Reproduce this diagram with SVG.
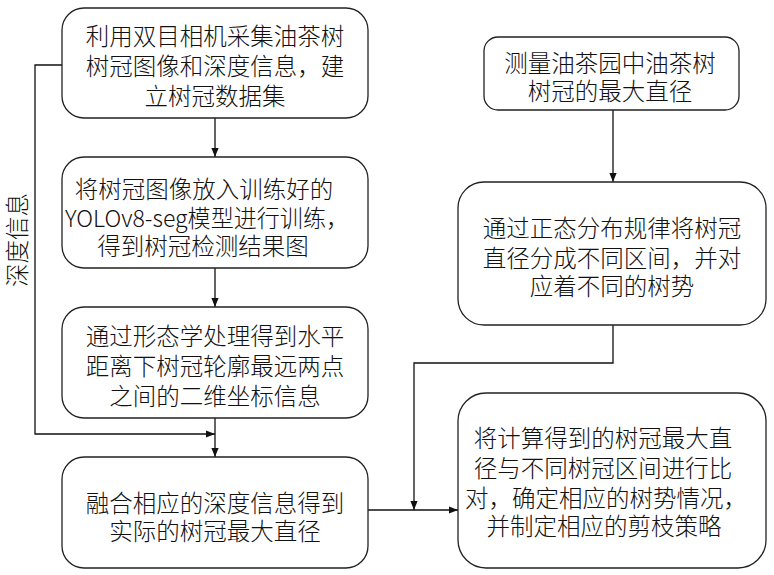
<svg xmlns="http://www.w3.org/2000/svg" width="774" height="575" viewBox="0 0 774 575">
<style>
.box{fill:#fff;stroke:#222;stroke-width:1.3}
.t{font-family:"Noto Sans CJK SC","Noto Sans",sans-serif;font-size:23.5px;font-weight:300;fill:#111;text-anchor:middle;dominant-baseline:central}
.c{fill:none;stroke:#111;stroke-width:1.3}
</style>
<defs>
<marker id="ah" viewBox="0 0 10 10" refX="10" refY="5" markerWidth="9" markerHeight="9" markerUnits="userSpaceOnUse" orient="auto">
<path d="M0,1 L10,5 L0,9 Z" fill="#111"/>
</marker>
</defs>
<rect width="774" height="575" fill="#fff"/>
<g id="connectors">
<path class="c" d="M215,118 V157" marker-end="url(#ah)"/>
<path class="c" d="M215,268 V307" marker-end="url(#ah)"/>
<path class="c" d="M215,418 V457" marker-end="url(#ah)"/>
<path class="c" d="M62,65 H35 V434 H215" marker-end="url(#ah)"/>
<path class="c" d="M613,110 V182" marker-end="url(#ah)"/>
<path class="c" d="M613,325 V363 H414 V510" marker-end="url(#ah)"/>
<path class="c" d="M368,510 H458" marker-end="url(#ah)"/>
<text class="t" transform="translate(16,240) rotate(-90)">深度信息</text>
</g>
<g id="n1">
<rect class="box" x="62" y="8" width="306" height="110" rx="22"/>
<text class="t"><tspan x="215" y="35">利用双目相机采集油茶树</tspan><tspan x="215" y="65">树冠图像和深度信息，建</tspan><tspan x="215" y="95">立树冠数据集</tspan></text>
</g>
<g id="n2">
<rect class="box" x="62" y="157" width="306" height="111" rx="22"/>
<text class="t"><tspan x="204" y="188">将树冠图像放入训练好的</tspan><tspan x="207" y="217" textLength="284" lengthAdjust="spacingAndGlyphs">YOLOv8-seg模型进行训练，</tspan><tspan x="203" y="245">得到树冠检测结果图</tspan></text>
</g>
<g id="n3">
<rect class="box" x="62" y="307" width="306" height="111" rx="22"/>
<text class="t"><tspan x="215" y="335">通过形态学处理得到水平</tspan><tspan x="215" y="365">距离下树冠轮廓最远两点</tspan><tspan x="215" y="395">之间的二维坐标信息</tspan></text>
</g>
<g id="n4">
<rect class="box" x="62" y="457" width="306" height="111" rx="22"/>
<text class="t"><tspan x="215" y="502">融合相应的深度信息得到</tspan><tspan x="215" y="530">实际的树冠最大直径</tspan></text>
</g>
<g id="r1">
<rect class="box" x="484" y="37" width="255" height="73" rx="14"/>
<text class="t"><tspan x="610" y="62">测量油茶园中油茶树</tspan><tspan x="610" y="90">树冠的最大直径</tspan></text>
</g>
<g id="r2">
<rect class="box" x="458" y="182" width="308" height="143" rx="26"/>
<text class="t"><tspan x="612" y="227">通过正态分布规律将树冠</tspan><tspan x="612" y="257">直径分成不同区间，并对</tspan><tspan x="612" y="285">应着不同的树势</tspan></text>
</g>
<g id="r3">
<rect class="box" x="458" y="393" width="308" height="175" rx="28"/>
<text class="t"><tspan x="603" y="437">将计算得到的树冠最大直</tspan><tspan x="603" y="467">径与不同树冠区间进行比</tspan><tspan x="606" y="497">对，确定相应的树势情况，</tspan><tspan x="604" y="525">并制定相应的剪枝策略</tspan></text>
</g>
</svg>
